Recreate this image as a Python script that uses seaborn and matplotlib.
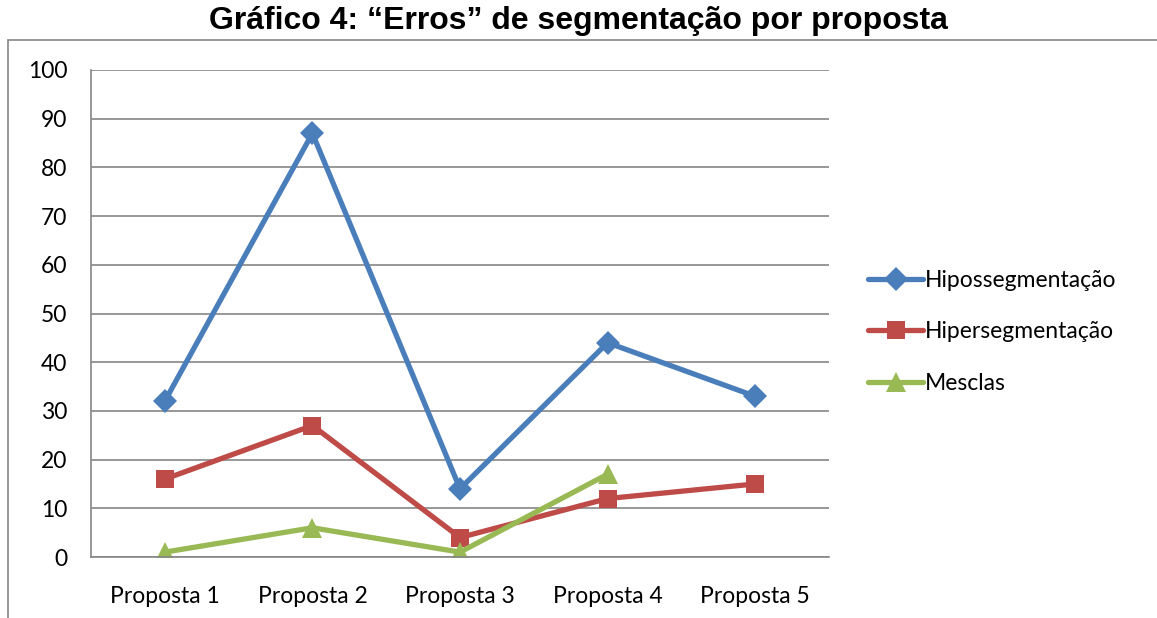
import pandas as pd
import matplotlib.pyplot as plt
import seaborn as sns
from matplotlib.lines import Line2D

propostas = ["Proposta 1", "Proposta 2", "Proposta 3", "Proposta 4", "Proposta 5"]
hipossegmentacao = [32, 87, 14, 44, 33]
hipersegmentacao = [16, 27, 4, 12, 15]
mesclas = [1, 6, 1, 17]  # sem valor para Proposta 5

series = ["Hipossegmentação", "Hipersegmentação", "Mesclas"]
cores = {"Hipossegmentação": "#4A7EBB", "Hipersegmentação": "#BE4B48", "Mesclas": "#98B954"}
marcadores = {"Hipossegmentação": "D", "Hipersegmentação": "s", "Mesclas": "^"}
tamanhos = {"Hipossegmentação": 12, "Hipersegmentação": 13, "Mesclas": 14}

rows = []
for nome, vals in zip(series, [hipossegmentacao, hipersegmentacao, mesclas]):
    for p, v in zip(propostas, vals):
        rows.append({"proposta": p, "valor": v, "serie": nome})
df = pd.DataFrame(rows)

sns.set_style("white")
plt.rcParams["font.family"] = ["Lato", "DejaVu Sans"]
plt.rcParams["text.color"] = "black"
plt.rcParams["xtick.labelcolor"] = "black"
plt.rcParams["ytick.labelcolor"] = "black"

fig = plt.figure(figsize=(11.57, 6.18), dpi=100)
ax = fig.add_axes([91 / 1157, 61 / 618, 738 / 1157, 487 / 618])

sns.lineplot(
    data=df, x="proposta", y="valor", hue="serie", style="serie",
    hue_order=series, style_order=series,
    palette=cores, markers=marcadores, dashes=False,
    linewidth=3.8, markersize=13, markeredgewidth=0,
    sort=False, legend=False, ax=ax,
)
for ln, n in zip(ax.get_lines(), series):
    ln.set_markersize(tamanhos[n])

ax.set_xlim(-0.5, 4.5)
ax.set_ylim(0, 100)
ax.set_yticks(range(0, 101, 10))
ax.set_xticks([i - 0.5 for i in range(6)], minor=True)
ax.tick_params(axis="x", which="major", length=0, labelsize=16.5, pad=21)
ax.tick_params(axis="x", which="minor", length=6, width=1.2, color="#868686", direction="out")
ax.tick_params(axis="y", length=6, width=1.2, color="#868686", direction="out", labelsize=16.5, pad=11)
ax.grid(axis="y", color="#868686", linewidth=1.2)
ax.set_axisbelow(True)
ax.set_xlabel("")
ax.set_ylabel("")
for s in ["top", "right"]:
    ax.spines[s].set_visible(False)
for s in ["left", "bottom"]:
    ax.spines[s].set_color("#868686")
    ax.spines[s].set_linewidth(1.2)

handles = [
    Line2D([], [], color=cores[n], marker=marcadores[n], linewidth=3.8,
           markersize=tamanhos[n], markeredgewidth=0, label=n)
    for n in series
]
ax.legend(handles=handles, loc="center left", bbox_to_anchor=(868 / 1157, 1 - 332 / 618),
          bbox_transform=fig.transFigure, frameon=False, fontsize=16.5,
          handlelength=2.4, handletextpad=0.1, labelspacing=1.35, borderaxespad=0,
          borderpad=0)

# moldura do gráfico
fig.add_artist(Line2D([8 / 1157, 8 / 1157], [0, 1 - 40 / 618], transform=fig.transFigure,
                      color="#868686", linewidth=1.2))
fig.add_artist(Line2D([8 / 1157, 1], [1 - 40 / 618, 1 - 40 / 618], transform=fig.transFigure,
                      color="#868686", linewidth=1.2))

fig.text(0.5, 1 - 21 / 618, "Gráfico 4: “Erros” de segmentação por proposta",
         ha="center", va="center", fontsize=23, fontweight="bold", color="black",
         family=["Liberation Sans", "DejaVu Sans"], zorder=5)

fig.savefig("out.png", dpi=100)
